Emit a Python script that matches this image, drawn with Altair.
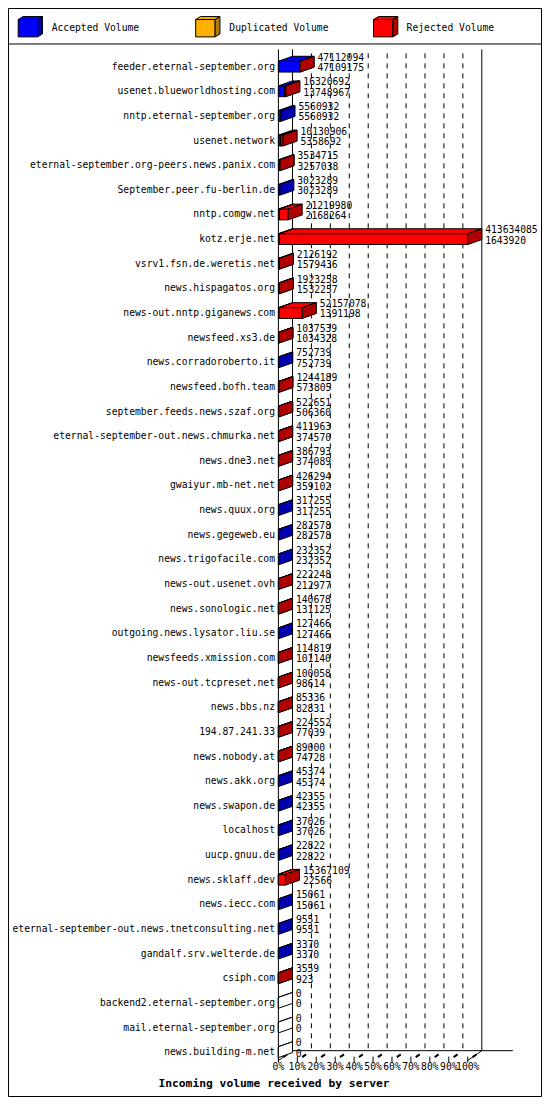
import altair as alt
import pandas as pd

servers = [
    "feeder.eternal-september.org", "usenet.blueworldhosting.com", "nntp.eternal-september.org",
    "usenet.network", "eternal-september.org-peers.news.panix.com", "September.peer.fu-berlin.de",
    "nntp.comgw.net", "kotz.erje.net", "vsrv1.fsn.de.weretis.net", "news.hispagatos.org",
    "news-out.nntp.giganews.com", "newsfeed.xs3.de", "news.corradoroberto.it", "newsfeed.bofh.team",
    "september.feeds.news.szaf.org", "eternal-september-out.news.chmurka.net", "news.dne3.net",
    "gwaiyur.mb-net.net", "news.quux.org", "news.gegeweb.eu", "news.trigofacile.com",
    "news-out.usenet.ovh", "news.sonologic.net", "outgoing.news.lysator.liu.se",
    "newsfeeds.xmission.com", "news-out.tcpreset.net", "news.bbs.nz", "194.87.241.33",
    "news.nobody.at", "news.akk.org", "news.swapon.de", "localhost", "uucp.gnuu.de",
    "news.sklaff.dev", "news.iecc.com", "eternal-september-out.news.tnetconsulting.net",
    "gandalf.srv.welterde.de", "csiph.com", "backend2.eternal-september.org",
    "mail.eternal-september.org", "news.building-m.net",
]
total_volume = [
    47112094, 16320692, 5560932, 10130906, 3534715, 3023289, 21219980, 413634085, 2126192,
    1923258, 52157078, 1037539, 752739, 1244189, 522651, 411963, 386793, 426294, 317255,
    282578, 232352, 222248, 140678, 127466, 114819, 100058, 85336, 224552, 89000, 45374,
    42355, 37026, 22822, 15367109, 15061, 9551, 3370, 3559, 0, 0, 0,
]
accepted_volume = [
    47109175, 13748967, 5560932, 5358692, 3257038, 3023289, 2168264, 1643920, 1579436,
    1532257, 1391198, 1034328, 752739, 573805, 506360, 374570, 374089, 359102, 317255,
    282578, 232352, 212977, 131125, 127466, 101140, 98614, 82831, 77039, 74728, 45374,
    42355, 37026, 22822, 22566, 15061, 9551, 3370, 923, 0, 0, 0,
]
legend_labels = ["Accepted Volume", "Duplicated Volume", "Rejected Volume"]
tick_values = [0, 10, 20, 30, 40, 50, 60, 70, 80, 90, 100]
tick_labels = ["0%", "10%", "20%", "30%", "40%", "50%", "60%", "70%", "80%", "90%", "100%"]
x_title = "Incoming volume received by server"

COLORS = {"acc": ("#0000FF", "#0000B0"), "dup": ("#FFB000", "#B07C00"), "rej": ("#FF0000", "#B00000")}
FONT = "DejaVu Sans Mono"
FS = 9.7

# layout (reference pixel frame -> data units)
W, H = 534, 1089
X0, PX = 278.5, 1.95      # 0% position, pixels per percent
Y0, PY = 59.5, 25.0       # first category centre, pixels per category


def ux(px):
    return (px - X0) / PX


def uy(py):
    return (py - Y0) / PY


XS = alt.Scale(domain=[ux(0), ux(550)], nice=False, zero=False)
YS = alt.Scale(domain=[uy(0), uy(1105)], nice=False, zero=False, reverse=True)

DX = 14.5 / PX     # bar depth
DYB = -5.0 / PY
HB = 5.5 / PY      # half bar height
DXF = 14.5 / PX    # wall depth
MAXV = max(total_volume)


def faces(store, key, x0, x1, ytop, ybot, dx, dy, col, dark):
    store["front"].append(dict(k=key, x=x0, x2=x1, y=ytop, y2=ybot, fill=col))
    store["top"].append(dict(k=key, yy=ytop, xa=x0, xb=x1, fill=col))
    store["top"].append(dict(k=key, yy=ytop + dy, xa=x0 + dx, xb=x1 + dx, fill=col))
    store["side"].append(dict(k=key, xx=x1, ya=ytop, yb=ybot, fill=dark))
    store["side"].append(dict(k=key, xx=x1 + dx, ya=ytop + dy, yb=ybot + dy, fill=dark))


groups = [dict(front=[], top=[], side=[]) for _ in range(3)]
num_rows = []
for i, (s, t, a) in enumerate(zip(servers, total_volume, accepted_volume)):
    pa = a / MAXV * 100
    pt = t / MAXV * 100
    if t == 0:
        faces(groups[2], f"z{i}", 0, 0, i - HB, i + HB, DX, DYB, "#FFFFFF", "#FFFFFF")
    else:
        if a > 0:
            faces(groups[0], f"a{i}", 0, pa, i - HB, i + HB, DX, DYB, *COLORS["acc"])
        if t - a > 0:
            faces(groups[1], f"r{i}", pa, pt, i - HB, i + HB, DX, DYB, *COLORS["rej"])
    num_rows.append(dict(x=pt + 18 / PX, y=i - 9 / PY, t=str(t)))
    num_rows.append(dict(x=pt + 18 / PX, y=i + 1.5 / PY, t=str(a)))

legend_icon_x = [10.5, 193.3, 376.5]
legend_text_x = [45, 228, 410.5]
for lx, key in zip(legend_icon_x, ["acc", "dup", "rej"]):
    faces(groups[0], f"L{key}", ux(lx), ux(lx + 20), uy(11.7), uy(29.3), 5 / PX, -3 / PY, *COLORS[key])


def X(f, **kw):
    return alt.X(f, scale=XS, axis=None, stack=None, **kw)


def Y(f, **kw):
    return alt.Y(f, scale=YS, axis=None, stack=None, **kw)


def face_layers(g):
    out = []
    if g["front"]:
        out.append(alt.Chart(pd.DataFrame(g["front"])).mark_rect(stroke="black", strokeWidth=1).encode(
            x=X("x:Q"), x2="x2:Q", y=Y("y:Q"), y2="y2:Q", fill=alt.Fill("fill:N", scale=None)))
    if g["top"]:
        out.append(alt.Chart(pd.DataFrame(g["top"])).mark_area(
            orient="horizontal", stroke="black", strokeWidth=1, opacity=1).encode(
            y=Y("yy:Q"), x=X("xa:Q"), x2="xb:Q", detail="k:N", fill=alt.Fill("fill:N", scale=None)))
    if g["side"]:
        out.append(alt.Chart(pd.DataFrame(g["side"])).mark_area(
            orient="vertical", stroke="black", strokeWidth=1, opacity=1).encode(
            x=X("xx:Q"), y=Y("ya:Q"), y2="yb:Q", detail="k:N", fill=alt.Fill("fill:N", scale=None)))
    return out


# background frame / walls
vrules = pd.DataFrame([
    dict(x=0, y=uy(42), y2=uy(1068)),
    dict(x=DXF, y=uy(42), y2=uy(1058)),
    dict(x=100 + DXF, y=uy(42), y2=uy(1058)),
])
grid = pd.DataFrame([dict(x=v + DXF, y=uy(46), y2=uy(1058)) for v in tick_values[1:-1]])
diag = pd.DataFrame([
    dict(x=0, x2=DXF, y=uy(1068), y2=uy(1058)),
    dict(x=100, x2=100 + DXF, y=uy(1068), y2=uy(1058)),
])
hrules = pd.DataFrame([
    dict(x=DXF, x2=ux(520), y=uy(1058)),
    dict(x=ux(0), x2=ux(550), y=uy(36.5)),
])
ticks = pd.DataFrame([dict(x=v, y=uy(1064), y2=uy(1070)) for v in tick_values])
tick3d = pd.DataFrame([dict(x=v + 5 / PX, x2=v + 9 / PX, y=uy(1064.5), y2=uy(1061.8)) for v in tick_values])
border = pd.DataFrame([dict(x=ux(0.5), x2=ux(549.5), y=uy(0.5), y2=uy(1104.5))])

layers = [
    alt.Chart(border).mark_rect(fillOpacity=0, stroke="black", strokeWidth=1).encode(
        x=X("x:Q"), x2="x2:Q", y=Y("y:Q"), y2="y2:Q"),
    alt.Chart(grid).mark_rule(color="black", strokeDash=[5, 5]).encode(x=X("x:Q"), y=Y("y:Q"), y2="y2:Q"),
    alt.Chart(vrules).mark_rule(color="black").encode(x=X("x:Q"), y=Y("y:Q"), y2="y2:Q"),
    alt.Chart(diag).mark_rule(color="black").encode(x=X("x:Q"), x2="x2:Q", y=Y("y:Q"), y2="y2:Q"),
    alt.Chart(hrules).mark_rule(color="black").encode(x=X("x:Q"), x2="x2:Q", y=Y("y:Q")),
    alt.Chart(ticks).mark_rule(color="black").encode(x=X("x:Q"), y=Y("y:Q"), y2="y2:Q"),
    alt.Chart(tick3d).mark_rule(color="black", strokeWidth=2).encode(x=X("x:Q"), x2="x2:Q", y=Y("y:Q"), y2="y2:Q"),
]
for g in groups:
    layers += face_layers(g)

name_df = pd.DataFrame(dict(t=servers, x=[ux(275)] * len(servers), y=list(range(len(servers)))))
tick_df = pd.DataFrame(dict(t=tick_labels, x=tick_values, y=[uy(1075)] * len(tick_values)))
leg_df = pd.DataFrame(dict(t=legend_labels, x=[ux(v) for v in legend_text_x], y=[uy(20.5)] * 3))
title_df = pd.DataFrame([dict(t=x_title, x=ux(274), y=uy(1091.5))])

layers += [
    alt.Chart(name_df).mark_text(align="right", baseline="middle", font=FONT, fontSize=FS, color="black").encode(
        x=X("x:Q"), y=Y("y:Q"), text="t:N"),
    alt.Chart(pd.DataFrame(num_rows)).mark_text(align="left", baseline="middle", font=FONT, fontSize=FS, color="black").encode(
        x=X("x:Q"), y=Y("y:Q"), text="t:N"),
    alt.Chart(tick_df).mark_text(align="center", baseline="middle", font=FONT, fontSize=FS, color="black").encode(
        x=X("x:Q"), y=Y("y:Q"), text="t:N"),
    alt.Chart(leg_df).mark_text(align="left", baseline="middle", font=FONT, fontSize=FS, color="black").encode(
        x=X("x:Q"), y=Y("y:Q"), text="t:N"),
    alt.Chart(title_df).mark_text(align="center", baseline="middle", font=FONT, fontSize=11.3,
                                  fontWeight="bold", color="black").encode(
        x=X("x:Q"), y=Y("y:Q"), text="t:N"),
]

chart = alt.layer(*layers).properties(
    width=W, height=H, padding=0, autosize=alt.AutoSizeParams(type="none"), background="white"
).configure_view(strokeOpacity=0)

chart.save("out.html", embed_options={"renderer": "svg", "actions": False})
